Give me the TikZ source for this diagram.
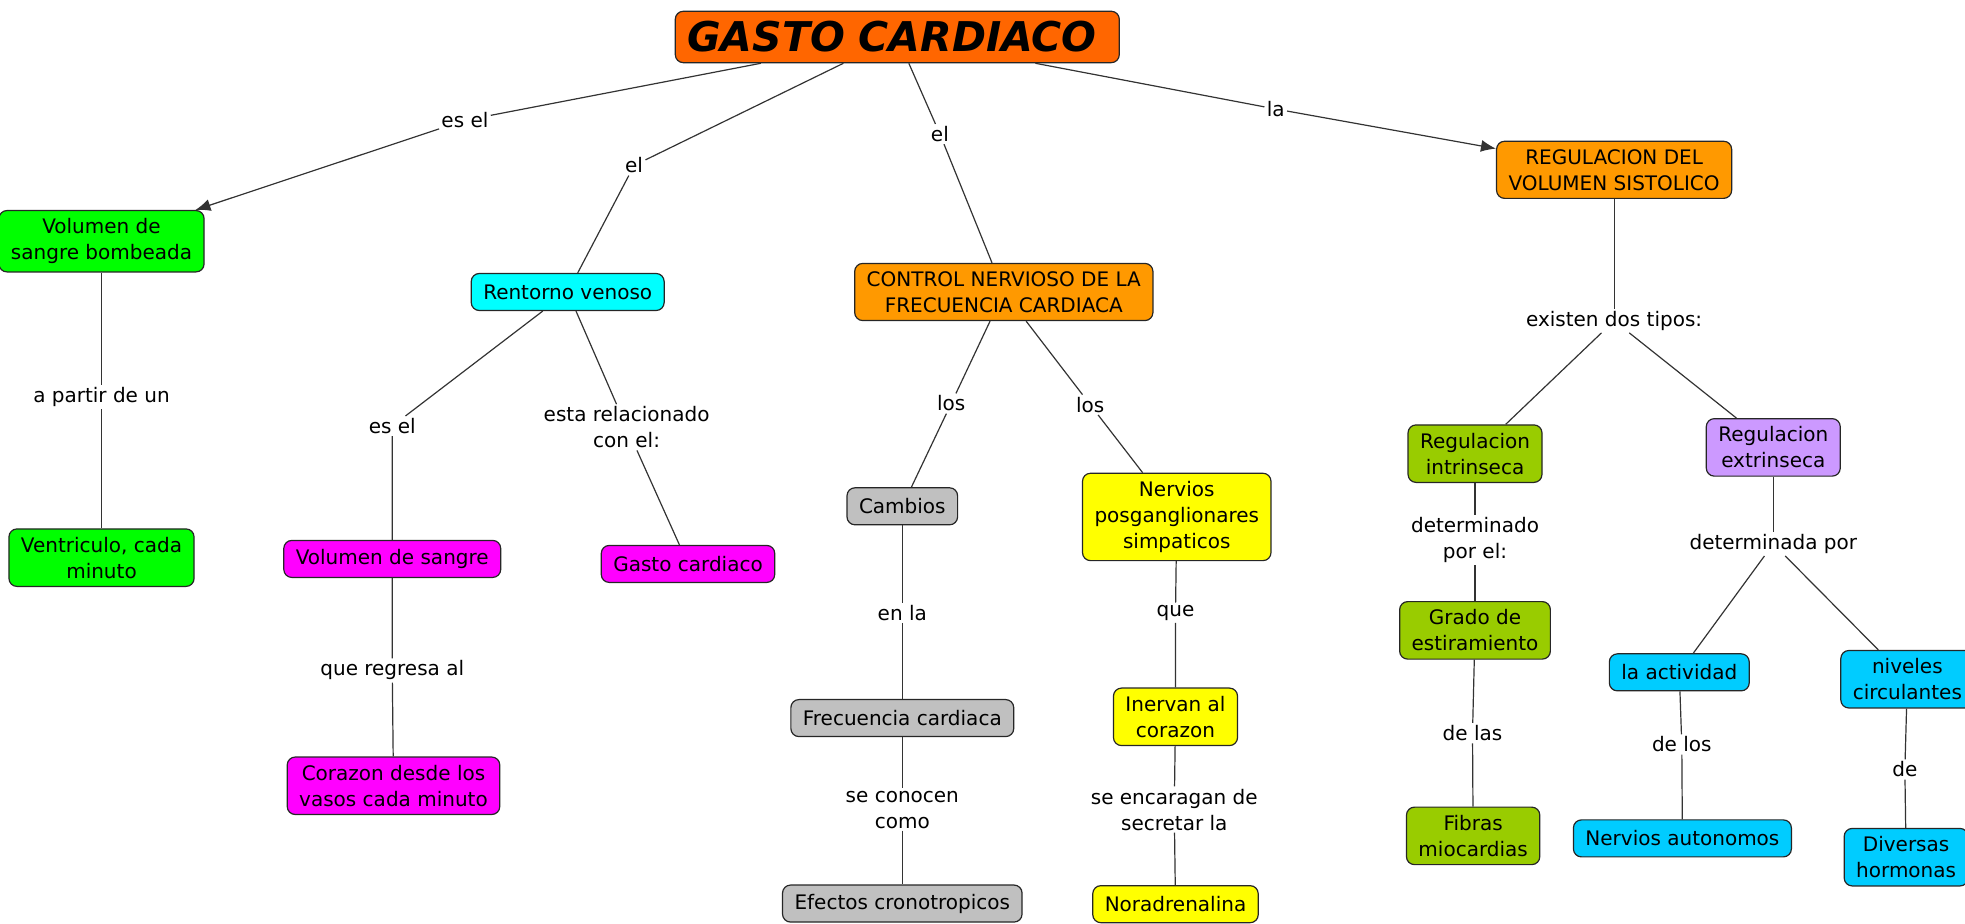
\documentclass[tikz,border=0pt]{standalone}
\usepackage{fontspec}
\setmainfont{DejaVu Sans}
\usetikzlibrary{arrows.meta}
\definecolor{titleorange}{HTML}{FF6600}
\definecolor{boxorange}{HTML}{FF9900}
\definecolor{boxgreen}{HTML}{00FF00}
\definecolor{boxcyan}{HTML}{00FFFF}
\definecolor{boxmagenta}{HTML}{FF00FF}
\definecolor{boxgray}{HTML}{C0C0C0}
\definecolor{boxyellow}{HTML}{FFFF00}
\definecolor{boxolive}{HTML}{99CC00}
\definecolor{boxviolet}{HTML}{CC99FF}
\definecolor{boxsky}{HTML}{00CCFF}
\tikzstyle{concept}=[rectangle, rounded corners=4pt, draw=black!85, line width=0.6pt, align=center, inner xsep=6pt, inner ysep=4pt, minimum height=18.5pt, font=\fontsize{10}{13}\selectfont]
\tikzstyle{linkword}=[inner sep=1pt, align=center, font=\fontsize{10}{13}\selectfont]
\tikzstyle{link}=[draw=black!80, line width=0.6pt]
\tikzstyle{linkarrow}=[link, -{Latex[length=7.5pt,width=6pt]}]

\begin{document}
\begin{tikzpicture}[x=0.6266pt, y=-0.6266pt]
    \useasboundingbox (0,0) rectangle (1568,737);
    % concepts
    \node[concept, fill=titleorange, minimum width=222pt, minimum height=25.7pt, text width=210pt, align=left,
    font=\fontsize{20.5}{25}\bfseries\itshape] (gasto) at (716,29.5) {GASTO CARDIACO};
    \node[concept, fill=boxgreen] (volbomb) at (81,192.5) {Volumen de\\sangre bombeada};
    \node[concept, fill=boxgreen] (ventric) at (81,445) {Ventriculo, cada\\minuto};
    \node[concept, fill=boxcyan] (retorno) at (453,233) {Rentorno venoso};
    \node[concept, fill=boxmagenta] (volsangre) at (313,446) {Volumen de sangre};
    \node[concept, fill=boxmagenta] (corazon) at (314,627) {Corazon desde los\\vasos cada minuto};
    \node[concept, fill=boxmagenta] (gastocard) at (549,450) {Gasto cardiaco};
    \node[concept, fill=boxorange] (control) at (801,233) {CONTROL NERVIOSO DE LA\\FRECUENCIA CARDIACA};
    \node[concept, fill=boxgray] (cambios) at (720,404) {Cambios};
    \node[concept, fill=boxgray] (frecuencia) at (720,573) {Frecuencia cardiaca};
    \node[concept, fill=boxgray] (efectos) at (720,721) {Efectos cronotropicos};
    \node[concept, fill=boxyellow] (nervpos) at (939,412.5) {Nervios\\posganglionares\\simpaticos};
    \node[concept, fill=boxyellow] (inervan) at (938,572) {Inervan al\\corazon};
    \node[concept, fill=boxyellow] (noradren) at (938,721.5) {Noradrenalina};
    \node[concept, fill=boxorange] (regvol) at (1288,135.5) {REGULACION DEL\\VOLUMEN SISTOLICO};
    \node[concept, fill=boxolive] (regint) at (1177,362) {Regulacion\\intrinseca};
    \node[concept, fill=boxolive] (grado) at (1177,503) {Grado de\\estiramiento};
    \node[concept, fill=boxolive] (fibras) at (1175.5,667) {Fibras\\miocardias};
    \node[concept, fill=boxviolet] (regext) at (1415,357) {Regulacion\\extrinseca};
    \node[concept, fill=boxsky] (actividad) at (1340,536.5) {la actividad};
    \node[concept, fill=boxsky] (nervaut) at (1342.5,669) {Nervios autonomos};
    \node[concept, fill=boxsky] (niveles) at (1522,542) {niveles\\circulantes};
    \node[concept, fill=boxsky] (hormonas) at (1521,684) {Diversas\\hormonas};
    % linking words
    \node[linkword] (esel1) at (371,96) {es el};
    \node[linkword] (el1) at (506,132) {el};
    \node[linkword] (el2) at (750,107) {el};
    \node[linkword] (la1) at (1018,87) {la};
    \node[linkword] (apartir) at (81,317) {a partir de un};
    \node[linkword] (esel2) at (313,340) {es el};
    \node[linkword] (relac) at (500,341) {esta relacionado\\con el:};
    \node[linkword] (regresa) at (313,535) {que regresa al};
    \node[linkword] (los1) at (759,322) {los};
    \node[linkword] (los2) at (870,323) {los};
    \node[linkword] (enla) at (720,489) {en la};
    \node[linkword] (conocen) at (720,646) {se conocen\\como};
    \node[linkword] (que) at (938,489) {que};
    \node[linkword] (secretar) at (937,646) {se encaragan de\\secretar la};
    \node[linkword] (tipos) at (1288,256) {existen dos tipos:};
    \node[linkword] (detint) at (1177,431) {determinado\\por el:};
    \node[linkword] (detext) at (1415,434) {determinada por};
    \node[linkword] (delas) at (1175,585) {de las};
    \node[linkword] (delos) at (1342,594) {de los};
    \node[linkword] (de) at (1520,614) {de};
    % connectors
    \draw[link] (gasto) -- (esel1);
    \draw[linkarrow] (esel1) -- (volbomb);
    \draw[link] (gasto) -- (el1) -- (retorno);
    \draw[link] (gasto) -- (el2) -- (control);
    \draw[link] (gasto) -- (la1);
    \draw[linkarrow] (la1) -- (regvol);
    \draw[link] (volbomb) -- (apartir) -- (ventric);
    \draw[link] (retorno) -- (esel2) -- (volsangre);
    \draw[link] (retorno) -- (relac) -- (gastocard);
    \draw[link] (volsangre) -- (regresa) -- (corazon);
    \draw[link] (control) -- (los1) -- (cambios);
    \draw[link] (control) -- (los2) -- (nervpos);
    \draw[link] (cambios) -- (enla) -- (frecuencia);
    \draw[link] (frecuencia) -- (conocen) -- (efectos);
    \draw[link] (nervpos) -- (que) -- (inervan);
    \draw[link] (inervan) -- (secretar) -- (noradren);
    \draw[link] (regvol) -- (tipos);
    \draw[link] (tipos) -- (regint);
    \draw[link] (tipos) -- (regext);
    \draw[link] (regint) -- (detint) -- (grado);
    \draw[link] (grado) -- (delas) -- (fibras);
    \draw[link] (regext) -- (detext);
    \draw[link] (detext) -- (actividad);
    \draw[link] (detext) -- (niveles);
    \draw[link] (actividad) -- (delos) -- (nervaut);
    \draw[link] (niveles) -- (de) -- (hormonas);
\end{tikzpicture}
\end{document}
